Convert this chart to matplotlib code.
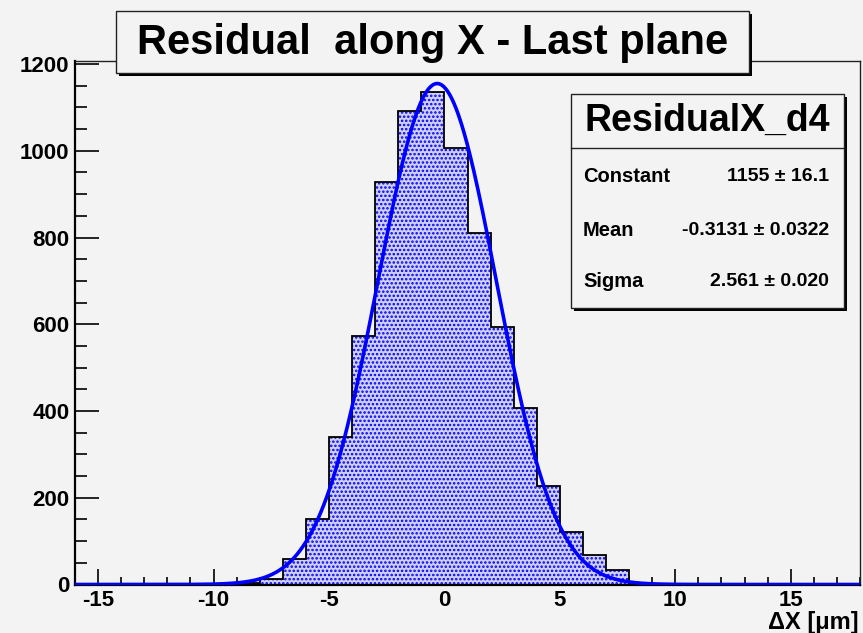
import numpy as np
import matplotlib
matplotlib.use("Agg")
import matplotlib.pyplot as plt
from matplotlib.patches import Rectangle
from matplotlib.ticker import MultipleLocator

# ---- data ----
bin_edges = list(range(-16, 19))  # 1 um wide bins from -16 to 18
counts = [0, 0, 0, 0, 0, 0, 1, 3,      # -16 .. -8
          13, 59, 151, 339, 574, 929, 1092, 1135,   # -8 .. 0
          1006, 810, 593, 408, 226, 122, 68, 34,    # 0 .. 8
          4, 1, 0, 0, 0, 0, 0, 0, 0, 0]             # 8 .. 18
fit_constant, fit_constant_err = 1155, 16.1
fit_mean, fit_mean_err = -0.3131, 0.0322
fit_sigma, fit_sigma_err = 2.561, 0.020
title = "Residual  along X - Last plane"
stats_name = "ResidualX_d4"
xlabel = "\u0394X [\u03bcm]"
x_range = (-16, 18)
y_range = (0, 1207)

W, H = 863, 633
BG = "#f3f3f3"
plt.rcParams['font.family'] = ['Liberation Sans', 'DejaVu Sans']
plt.rcParams['font.weight'] = 'bold'
plt.rcParams['hatch.linewidth'] = 1.2
plt.rcParams['axes.unicode_minus'] = False

fig = plt.figure(figsize=(W / 100, H / 100), dpi=100, facecolor=BG)


def fx(px):
    return px / W


def fy(py):
    return 1 - py / H


ax_l, ax_r, ax_t, ax_b = 75, 860, 61, 584.5
ax = fig.add_axes([fx(ax_l), fy(ax_b), fx(ax_r - ax_l), (ax_b - ax_t) / H])
ax.set_facecolor(BG)

# histogram fill with dotted pattern
ax.stairs(counts, bin_edges, fill=True, facecolor="#d0d0f4", edgecolor="#0000ff",
          linewidth=0, hatch="....", zorder=2)
ax.stairs(counts, bin_edges, fill=False, edgecolor="black", linewidth=1.3, zorder=3)

# fitted gaussian
xf = np.linspace(x_range[0], x_range[1], 800)
yf = fit_constant * np.exp(-0.5 * ((xf - fit_mean) / fit_sigma) ** 2)
ax.plot(xf, yf, color="#0000ff", linewidth=2.6, zorder=4, solid_capstyle='butt')

ax.set_xlim(*x_range)
ax.set_ylim(*y_range)

ax.xaxis.set_major_locator(MultipleLocator(5))
ax.xaxis.set_minor_locator(MultipleLocator(1))
ax.yaxis.set_major_locator(MultipleLocator(200))
ax.yaxis.set_minor_locator(MultipleLocator(50))

ax.tick_params(axis='both', which='both', direction='in', top=False, right=False,
               color='black', width=1.2)
ax.tick_params(axis='x', which='major', length=11.5, pad=4, labelsize=16)
ax.tick_params(axis='x', which='minor', length=5.8)
ax.tick_params(axis='y', which='major', length=17.5, pad=4, labelsize=16)
ax.tick_params(axis='y', which='minor', length=8.8)
for lab in ax.get_xticklabels() + ax.get_yticklabels():
    lab.set_fontweight('bold')

for side in ['top', 'right']:
    ax.spines[side].set_linewidth(1.0)
    ax.spines[side].set_color('#222222')
for side in ['left', 'bottom']:
    ax.spines[side].set_linewidth(1.6)
    ax.spines[side].set_color('black')

fig.text(fx(859), fy(622), xlabel, ha='right', va='center', fontsize=17,
         fontweight='bold')


def shadow_box(x0, y0, x1, y1, off=3):
    fig.add_artist(Rectangle((fx(x0 + off), fy(y1 + off)), fx(x1 - x0), (y1 - y0) / H,
                             transform=fig.transFigure, facecolor='black',
                             edgecolor='none', zorder=10))
    fig.add_artist(Rectangle((fx(x0), fy(y1)), fx(x1 - x0), (y1 - y0) / H,
                             transform=fig.transFigure, facecolor=BG,
                             edgecolor='#222222', linewidth=1.0, zorder=11))


# title box
shadow_box(116, 11, 749, 73)
fig.text(fx(433), fy(43), title, ha='center', va='center', fontsize=30,
         fontweight='bold', zorder=12)

# stats box
sx0, sy0, sx1, sy1 = 571, 94, 844, 308
shadow_box(sx0, sy0, sx1, sy1)
fig.add_artist(plt.Line2D([fx(sx0), fx(sx1)], [fy(148), fy(148)],
                          transform=fig.transFigure, color='#222222', linewidth=1.0,
                          zorder=12))
fig.text(fx((sx0 + sx1) / 2), fy(121), stats_name, ha='center', va='center',
         fontsize=27, fontweight='bold', zorder=12)
rows = [("Constant", f"{fit_constant} \u00b1 {fit_constant_err}", 176),
        ("Mean", f"{fit_mean} \u00b1 {fit_mean_err}", 230),
        ("Sigma", f"{fit_sigma:.3f} \u00b1 {fit_sigma_err:.3f}", 282)]
for name, val, yy in rows:
    fig.text(fx(583), fy(yy), name, ha='left', va='center', fontsize=14.5,
             fontweight='bold', zorder=12)
    fig.text(fx(829), fy(yy), val, ha='right', va='center', fontsize=14,
             fontweight='bold', zorder=12)

fig.savefig("out.png", dpi=100, facecolor=BG)
